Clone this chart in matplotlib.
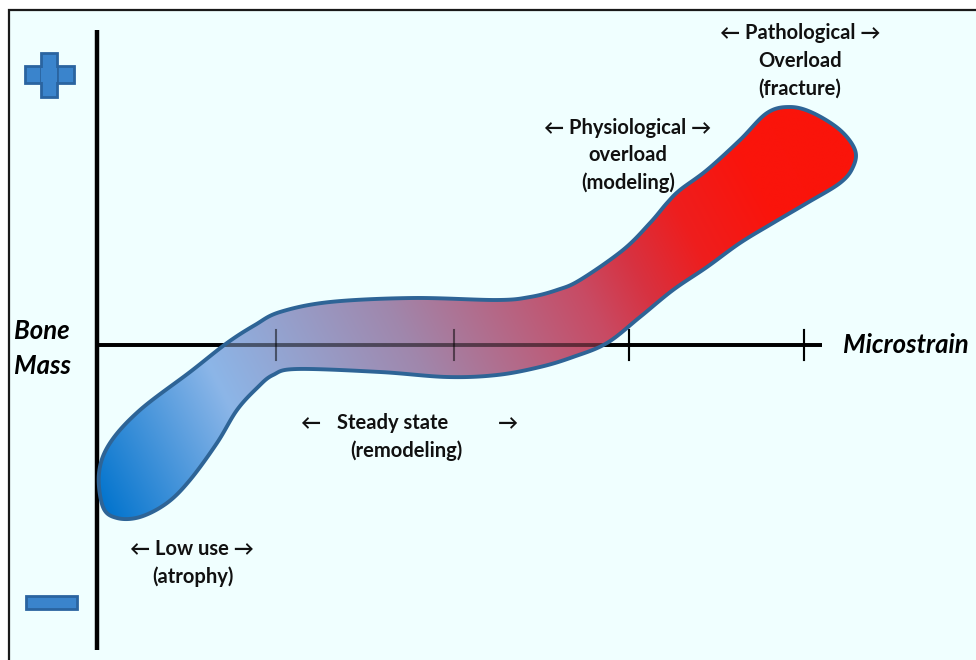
import numpy as np
import matplotlib
matplotlib.use('Agg')
import matplotlib.pyplot as plt
from matplotlib.patches import Polygon, Rectangle

# ---- data (diagram coordinates, pixel space of the original drawing) ----
upper_x = [99, 110, 140, 190, 227, 255, 280, 330, 413, 497, 530, 557, 580, 623,
           650, 667, 680, 707, 740, 767, 790, 813, 840, 855]
upper_y = [473, 443, 410, 372, 343, 325, 312, 302, 298, 300, 297, 290, 280, 250,
           223, 203, 190, 170, 140, 113, 107, 113, 130, 150]
lower_x = [853, 840, 807, 773, 740, 707, 673, 640, 607, 573, 540, 497, 447, 380,
           297, 273, 257, 237, 217, 190, 167, 140, 117, 103]
lower_y = [167, 183, 203, 223, 243, 267, 290, 317, 343, 357, 367, 375, 377, 372,
           369, 375, 388, 410, 443, 480, 503, 517, 518, 507]
tick_positions = [276, 454, 629, 804]
gradient_stops = [0.0, 0.2, 0.43, 0.65, 0.72, 0.8, 0.9, 1.0]
gradient_colors = [(0, 115, 205), (140, 182, 232), (160, 135, 172),
                   (200, 75, 100), (215, 50, 65), (238, 30, 30),
                   (250, 20, 12), (250, 20, 10)]
zone_labels = [
    ("\u2190 Pathological \u2192", 800, 33),
    ("Overload", 800, 61),
    ("(fracture)", 800, 89),
    ("\u2190 Physiological \u2192", 628, 128),
    ("overload", 628, 155),
    ("(modeling)", 628, 183),
    ("Steady state", 393, 423),
    ("\u2190", 310, 423),
    ("\u2192", 508, 423),
    ("(remodeling)", 406, 451),
    ("\u2190 Low use \u2192", 192, 549),
    ("(atrophy)", 193, 577),
]

W, H = 976, 660
fig = plt.figure(figsize=(9.76, 6.6), dpi=100)
ax = fig.add_axes([0, 0, 1, 1])
ax.set_xlim(0, W)
ax.set_ylim(H, 0)
ax.axis('off')
fig.patch.set_facecolor('white')

ax.add_patch(Rectangle((9, 10), W + 20, H + 20, facecolor='#F0FFFF',
                       edgecolor='#1a1a1a', lw=1.6, zorder=0))

# axes
ax.plot([97, 97], [30, 650], color='black', lw=3.2, solid_capstyle='butt', zorder=1)
ax.plot([97, 822], [345, 345], color='black', lw=2.8, solid_capstyle='butt', zorder=1)
for tx in tick_positions:
    ax.plot([tx, tx], [330, 360], color='black', lw=1.5, zorder=1)


# smooth closed outline (Catmull-Rom)
def catmull_closed(xs, ys, n=16):
    P = np.column_stack([xs, ys]).astype(float)
    m = len(P)
    out = []
    for i in range(m):
        p0, p1, p2, p3 = P[(i - 1) % m], P[i], P[(i + 1) % m], P[(i + 2) % m]
        for t in np.linspace(0, 1, n, endpoint=False):
            t2, t3 = t * t, t * t * t
            out.append(0.5 * ((2 * p1) + (-p0 + p2) * t +
                              (2 * p0 - 5 * p1 + 4 * p2 - p3) * t2 +
                              (-p0 + 3 * p1 - 3 * p2 + p3) * t3))
    return np.array(out)


pts = catmull_closed(upper_x + lower_x, upper_y + lower_y)

# gradient image
x0, x1, y0, y1 = 85, 875, 95, 535
gx = np.linspace(x0, x1, 400)
gy = np.linspace(y0, y1, 240)
X, Y = np.meshgrid(gx, gy)
dx, dy = 720.0, -380.0
T = ((X - 100) * dx + (Y - 510) * dy) / (dx * dx + dy * dy)
T = np.clip(T, 0, 1)
cols = np.array(gradient_colors) / 255.0
img = np.zeros(X.shape + (3,))
for c in range(3):
    img[..., c] = np.interp(T, gradient_stops, cols[:, c])

outline = Polygon(pts, closed=True, facecolor='none', edgecolor='#2E6496',
                  lw=2.8, zorder=3, joinstyle='round')
ax.add_patch(outline)
im = ax.imshow(img, extent=(x0, x1, y1, y0), origin='upper', zorder=2,
               interpolation='bilinear', aspect='auto')
im.set_clip_path(outline)
ax.set_xlim(0, W)
ax.set_ylim(H, 0)

# axis showing through the translucent band
ax.plot([97, 822], [345, 345], color='black', lw=2.8, alpha=0.5,
        solid_capstyle='butt', zorder=2.5)
for tx in tick_positions:
    ax.plot([tx, tx], [330, 360], color='black', lw=1.5, alpha=0.5, zorder=2.5)

# plus / minus signs
fill = '#3A84CC'
edge = '#2A64A0'
ax.add_patch(Rectangle((25, 66), 49, 17, facecolor=fill, edgecolor=edge, lw=2, zorder=4))
ax.add_patch(Rectangle((41, 53), 16, 44, facecolor=fill, edgecolor=edge, lw=2, zorder=4))
ax.add_patch(Rectangle((41, 67.5), 16, 14, facecolor=fill, edgecolor='none', zorder=5))
ax.add_patch(Rectangle((26, 596), 51, 13, facecolor=fill, edgecolor=edge, lw=2, zorder=4))

fam = ['Lato', 'DejaVu Sans']
ax.text(14, 331, "Bone", fontsize=18.5, fontweight='bold', fontstyle='italic',
        family=fam, ha='left', va='center')
ax.text(14, 366, "Mass", fontsize=18.5, fontweight='bold', fontstyle='italic',
        family=fam, ha='left', va='center')
ax.text(843, 345, "Microstrain", fontsize=18.5, fontweight='bold', fontstyle='italic',
        family=fam, ha='left', va='center')

for s, x, y in zone_labels:
    ax.text(x, y, s, fontsize=14.5, fontweight='bold', family=fam,
            ha='center', va='center', color='#111111')

fig.savefig('out.png', dpi=100, facecolor='white')
